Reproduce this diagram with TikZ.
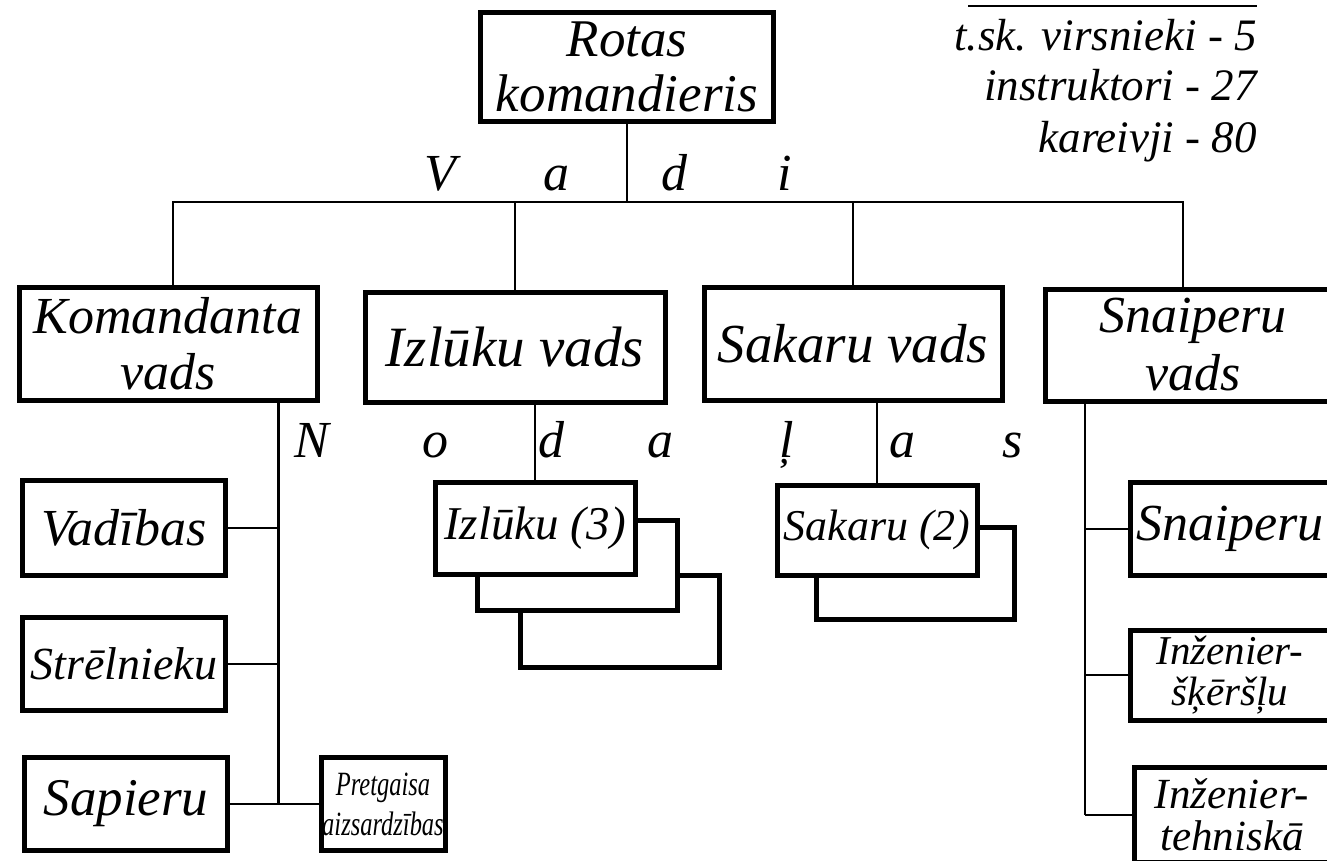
\documentclass[tikz,border=0pt]{standalone}
\usepackage{fontspec}
\setmainfont{Liberation Serif}
\newfontfamily\narrowfont[FakeStretch=0.72]{Liberation Serif}

\begin{document}
\begin{tikzpicture}[
  x = 1pt,
  y = -1pt,
  box/.style = {
    draw,
    line width = 5pt,
    fill = white,
    inner sep = 0pt,
    align = center
  },
  link/.style = {
    line width = 2.5pt
  },
  letter/.style = {
    font = \fontsize{52}{52}\selectfont\itshape,
    inner sep = 0pt,
    anchor = base
  },
  note/.style = {
    font = \fontsize{45}{50}\selectfont\itshape,
    inner sep = 0pt,
    anchor = base east
  }
]
  \useasboundingbox (0,0) rectangle (1327,860);
  \clip (0,0) rectangle (1327,860);

  % staff numbers
  \draw[link] (968,6) -- (1257,6);
  \foreach \txt/\y [count=\i] in {t.sk. virsnieki - 5/50, instruktori - 27/100, kareivji - 80/152}
    \node[note] (staff-\i) at (1257,\y) {\txt};

  % company commander
  \node[box, minimum width = 293, minimum height = 109,
    font = \fontsize{53}{55}\selectfont\itshape] (rota) at (627,67) {Rotas\\komandieris};

  % platoons
  \node[box, minimum width = 298, minimum height = 113,
    font = \fontsize{52}{56}\selectfont\itshape] (kom) at (168,344) {Komandanta\\vads};
  \node[box, minimum width = 300, minimum height = 110,
    font = \fontsize{57}{57}\selectfont\itshape] (izv) at (515,347) {Izlūku vads};
  \node[box, minimum width = 298, minimum height = 113,
    font = \fontsize{55}{55}\selectfont\itshape] (sak) at (853,344) {Sakaru vads};
  \node[box, minimum width = 295, minimum height = 112,
    font = \fontsize{52}{58}\selectfont\itshape] (sna) at (1193,345) {Snaiperu\\vads};

  \foreach \ch/\x [count=\i] in {V/440, a/556, d/674, i/785}
    \node[letter] (vadi-\i) at (\x,190) {\ch};
  \foreach \ch/\x [count=\i] in {N/312, o/435, d/551, a/660, ļ/787, a/902, s/1013}
    \node[letter] (nod-\i) at (\x,457) {\ch};

  % squads of the command platoon
  \node[box, minimum width = 203, minimum height = 95,
    font = \fontsize{52}{52}\selectfont\itshape] (vad) at (124,528) {Vadības};
  \node[box, minimum width = 203, minimum height = 93,
    font = \fontsize{46}{46}\selectfont\itshape] (str) at (124,664) {Strēlnieku};
  \node[box, minimum width = 203, minimum height = 93,
    font = \fontsize{53}{53}\selectfont\itshape] (sap) at (126,804) {Sapieru};
  \node[box, minimum width = 124, minimum height = 93,
    font = \narrowfont\fontsize{34}{40}\selectfont\itshape] (prg) at (383,804) {Pretgaisa\\aizsardzības};

  % scout and signal squads
  \node[box, minimum width = 199, minimum height = 92] (izl-3) at (620,621) {};
  \node[box, minimum width = 200, minimum height = 90] (izl-2) at (577,565) {};
  \node[box, minimum width = 200, minimum height = 92,
    font = \fontsize{47}{47}\selectfont\itshape] (izl-1) at (535,528) {Izlūku (3)};
  \node[box, minimum width = 198, minimum height = 92] (sak-2) at (915,573) {};
  \node[box, minimum width = 200, minimum height = 90,
    font = \fontsize{44}{44}\selectfont\itshape] (sak-1) at (877,530) {Sakaru (2)};

  % sniper platoon squads
  \node[box, minimum width = 199, minimum height = 93,
    font = \fontsize{52}{52}\selectfont\itshape] (snp) at (1230,529) {Snaiperu};
  \node[box, minimum width = 199, minimum height = 90,
    font = \fontsize{41}{41}\selectfont\itshape] (isk) at (1230,675) {Inženier-\\šķēršļu};
  \node[box, minimum width = 195, minimum height = 95,
    font = \fontsize{43}{42}\selectfont\itshape] (ite) at (1232,815) {Inženier-\\tehniskā};

  % connectors
  \coordinate (bus) at (0,202);
  \coordinate (kom-top) at ([xshift = 5pt]kom.north);
  \coordinate (sna-top) at ([xshift = -10pt]sna.north);
  \draw[link] (rota.south) -- (rota.south |- bus);
  \draw[link] (kom-top) |- (bus -| sna-top) -- (sna-top);
  \draw[link] (izv.north) -- (izv.north |- bus);
  \draw[link] (sak.north) -- (sak.north |- bus);

  \coordinate (kom-spine) at ([xshift = -41pt]kom.south east);
  \draw[link] (kom-spine) -- (kom-spine |- sap.east);
  \draw[link] (vad.east) -- (vad.east -| kom-spine);
  \draw[link] (str.east) -- (str.east -| kom-spine);
  \draw[link] (sap.east) -- (prg.west);

  \draw[link] (izl-1.north) -- (izl-1.north |- izv.south);
  \draw[link] (sak-1.north) -- (sak-1.north |- sak.south);

  \coordinate (sna-spine) at ([xshift = 42pt]sna.south west);
  \draw[link] (sna-spine) -- (sna-spine |- ite.west);
  \draw[link] (snp.west) -- (snp.west -| sna-spine);
  \draw[link] (isk.west) -- (isk.west -| sna-spine);
  \draw[link] (ite.west) -- (ite.west -| sna-spine);
\end{tikzpicture}
\end{document}
